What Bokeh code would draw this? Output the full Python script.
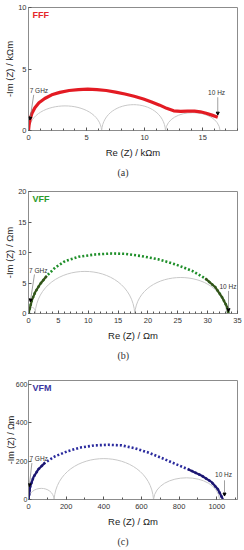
from bokeh.plotting import figure
from bokeh.models import Label, Arrow, NormalHead, SingleIntervalTicker, Range1d, Title
from bokeh.layouts import column
from bokeh.embed import file_html
from bokeh.resources import INLINE

# ---------------- data ----------------
# (a) FFF  [kOhm m]
a_re = [0.0, 0.05, 0.15, 0.3, 0.55, 0.9, 1.4, 2.0, 2.7, 3.5, 4.3, 5.1, 5.9, 6.7, 7.5,
        8.3, 9.1, 9.9, 10.6, 11.3, 11.9, 12.5, 13.1, 13.7, 14.3, 14.8, 15.3, 15.8, 16.3]
a_im = [0.0, 0.45, 0.95, 1.4, 1.85, 2.25, 2.6, 2.9, 3.1, 3.25, 3.33, 3.36, 3.33, 3.25, 3.12,
        2.97, 2.78, 2.56, 2.32, 2.06, 1.8, 1.6, 1.55, 1.57, 1.58, 1.52, 1.4, 1.25, 1.08]
a_arc_start = [0.0, 6.3, 11.8]
a_arc_end = [6.3, 11.8, 16.5]
a_arc_peak = [2.0, 2.1, 1.45]

# (b) VFF  [Ohm m]
b_re = [0.0, 0.56, 1.12, 1.96, 3.07, 4.47, 6.15, 8.38, 11.18, 13.97, 16.2, 19.0, 21.8,
        24.6, 27.4, 29.6, 31.3, 32.4, 33.26, 33.5]
b_im = [0.0, 2.15, 3.5, 4.84, 6.18, 7.53, 8.6, 9.3, 9.68, 9.84, 9.78, 9.4, 8.87,
        8.06, 6.99, 5.75, 4.3, 2.69, 1.08, 0.0]
b_arc_start = [0.0, 1.1, 17.8]
b_arc_end = [1.2, 17.8, 33.2]
b_arc_peak = [1.0, 6.9, 5.9]

# (c) VFM  [Ohm m]
c_re = [0, 8.8, 26.5, 53, 88, 141, 212, 282, 353, 424, 494, 565, 635, 706, 776, 847,
        918, 971, 1006, 1029, 1032]
c_im = [0, 66.7, 116.7, 158, 192, 225, 253, 272, 282, 285, 282, 267, 245, 217, 187, 158,
        125, 92, 53, 8, 0]
c_arc_start = [0, 136, 664]
c_arc_end = [136, 664, 1015]
c_arc_peak = [58, 213, 113]

FONT = "Liberation Sans"
GRAY = "#8c8c8c"


def panel(s, e, h, xmax, ymax, xstep, ystep, xminor, unit, name, name_color,
          height, top, bottom, caption, ylab_standoff, ytick_standoff, ytick_size,
          ylab_size):
    p = figure(width=244, height=height, output_backend="svg", toolbar_location=None,
               x_range=Range1d(0, xmax), y_range=Range1d(0, ymax),
               min_border_left=28, min_border_right=7, min_border_top=top,
               min_border_bottom=bottom, background_fill_color="white",
               border_fill_color="white")
    p.grid.visible = False
    p.outline_line_color = GRAY
    p.outline_line_width = 1
    p.xaxis.ticker = SingleIntervalTicker(interval=xstep, num_minor_ticks=xminor)
    p.yaxis.ticker = SingleIntervalTicker(interval=ystep, num_minor_ticks=0)
    for ax in (p.xaxis[0], p.yaxis[0]):
        ax.axis_line_color = GRAY
        ax.major_tick_in = 3
        ax.major_tick_out = 0
        ax.minor_tick_in = 2
        ax.minor_tick_out = 0
        ax.major_tick_line_color = "#555555"
        ax.minor_tick_line_color = "#555555"
        ax.major_label_text_font = FONT
        ax.major_label_text_font_size = "7.5px"
        ax.major_label_text_color = "#333333"
        ax.axis_label_text_font = FONT
        ax.axis_label_text_font_size = "9.5px"
        ax.axis_label_text_font_style = "normal"
        ax.axis_label_text_color = "#222222"
    p.xaxis.axis_label = "Re (Z) / " + unit
    p.xaxis.major_label_standoff = 4
    p.xaxis.axis_label_standoff = 4
    p.yaxis.axis_label = "-Im (Z) / " + unit
    p.yaxis.major_label_standoff = ytick_standoff
    p.yaxis.major_label_text_font_size = ytick_size
    p.yaxis.axis_label_standoff = ylab_standoff
    p.yaxis.axis_label_text_font_size = ylab_size
    # fitted component arcs
    w = [b - a for a, b in zip(s, e)]
    p.bezier(x0=s, y0=[0] * len(s), x1=e, y1=[0] * len(s),
             cx0=[a + 0.04 * d for a, d in zip(s, w)], cy0=[k * 4 / 3 for k in h],
             cx1=[b - 0.04 * d for b, d in zip(e, w)], cy1=[k * 4 / 3 for k in h],
             line_color="#c8c8c8", line_width=1)
    p.add_layout(Label(x=4, x_units="screen", y=ymax, y_offset=-2, text=name,
                       text_align="left", text_baseline="top",
                       text_font=FONT, text_font_size="9px",
                       text_font_style="bold", text_color=name_color))
    p.add_layout(Title(text=caption, align="left", offset=89,
                       text_font="Liberation Serif", text_font_size="10px",
                       text_font_style="normal", text_color="#333333",
                       standoff=8), "below")
    return p


def note(p, tx, ty, text, align, x0, y0, x1, y1):
    p.add_layout(Label(x=tx, y=ty, text=text, text_align=align, text_baseline="middle",
                       text_font=FONT, text_font_size="6.5px",
                       text_color="#333333"))
    p.add_layout(Arrow(x_start=x0, y_start=y0, x_end=x1, y_end=y1,
                       line_color="#777777", line_width=0.7,
                       end=NormalHead(size=3, fill_color="black", line_color="black")))


# (a)
pa = panel(a_arc_start, a_arc_end, a_arc_peak, 18, 10, 5, 5, 5, "kΩm",
           "FFF", "#e5262b", 183, 7, 53, "(a)", 0, 2, "7.5px", "9.5px")
pa.line(a_re, a_im, line_color="#e31b23", line_width=3.2)
note(pa, 0.1, 3.25, "7 GHz", "left", 0.45, 2.9, 0.12, 0.85)
note(pa, 16.2, 3.1, "10 Hz", "center", 16.3, 2.7, 16.3, 1.25)

# (b)
pb = panel(b_arc_start, b_arc_end, b_arc_peak, 35, 20, 5, 5, 5, "Ωm",
           "VFF", "#2a9a2a", 181, 8, 49, "(b)", 0, 2, "7.5px", "9.5px")
pb.line(b_re, b_im, line_color="#1f8f2a", line_width=2.6, line_dash="2 2")
pb.line(b_re[:5], b_im[:5], line_color="#35521a", line_width=2.2)
pb.line(b_re[15:], b_im[15:], line_color="#35521a", line_width=2.2)
note(pb, 0.1, 7.0, "7 GHz", "left", 1.0, 6.4, 0.3, 1.9)
note(pb, 33.4, 4.4, "10 Hz", "center", 33.5, 3.7, 33.5, 0.3)

# (c)
pc = panel(c_arc_start, c_arc_end, c_arc_peak, 1110, 620, 200, 200, 2, "Ωm",
           "VFM", "#3b35a0", 186, 16, 50, "(c)", -3, 1, "7px", "9px")
pc.line(c_re, c_im, line_color="#2b2b9e", line_width=2.6, line_dash="2 2")
pc.line(c_re[:5], c_im[:5], line_color="#1c1670", line_width=2.2)
pc.line(c_re[15:], c_im[15:], line_color="#1c1670", line_width=2.2)
note(pc, 5, 213, "7 GHz", "left", 18, 190, 4, 67)
note(pc, 1036, 130, "10 Hz", "center", 1041, 100, 1041, 18)

layout = column(pa, pb, pc, spacing=0)
open("out.html", "w").write(file_html(layout, INLINE))
